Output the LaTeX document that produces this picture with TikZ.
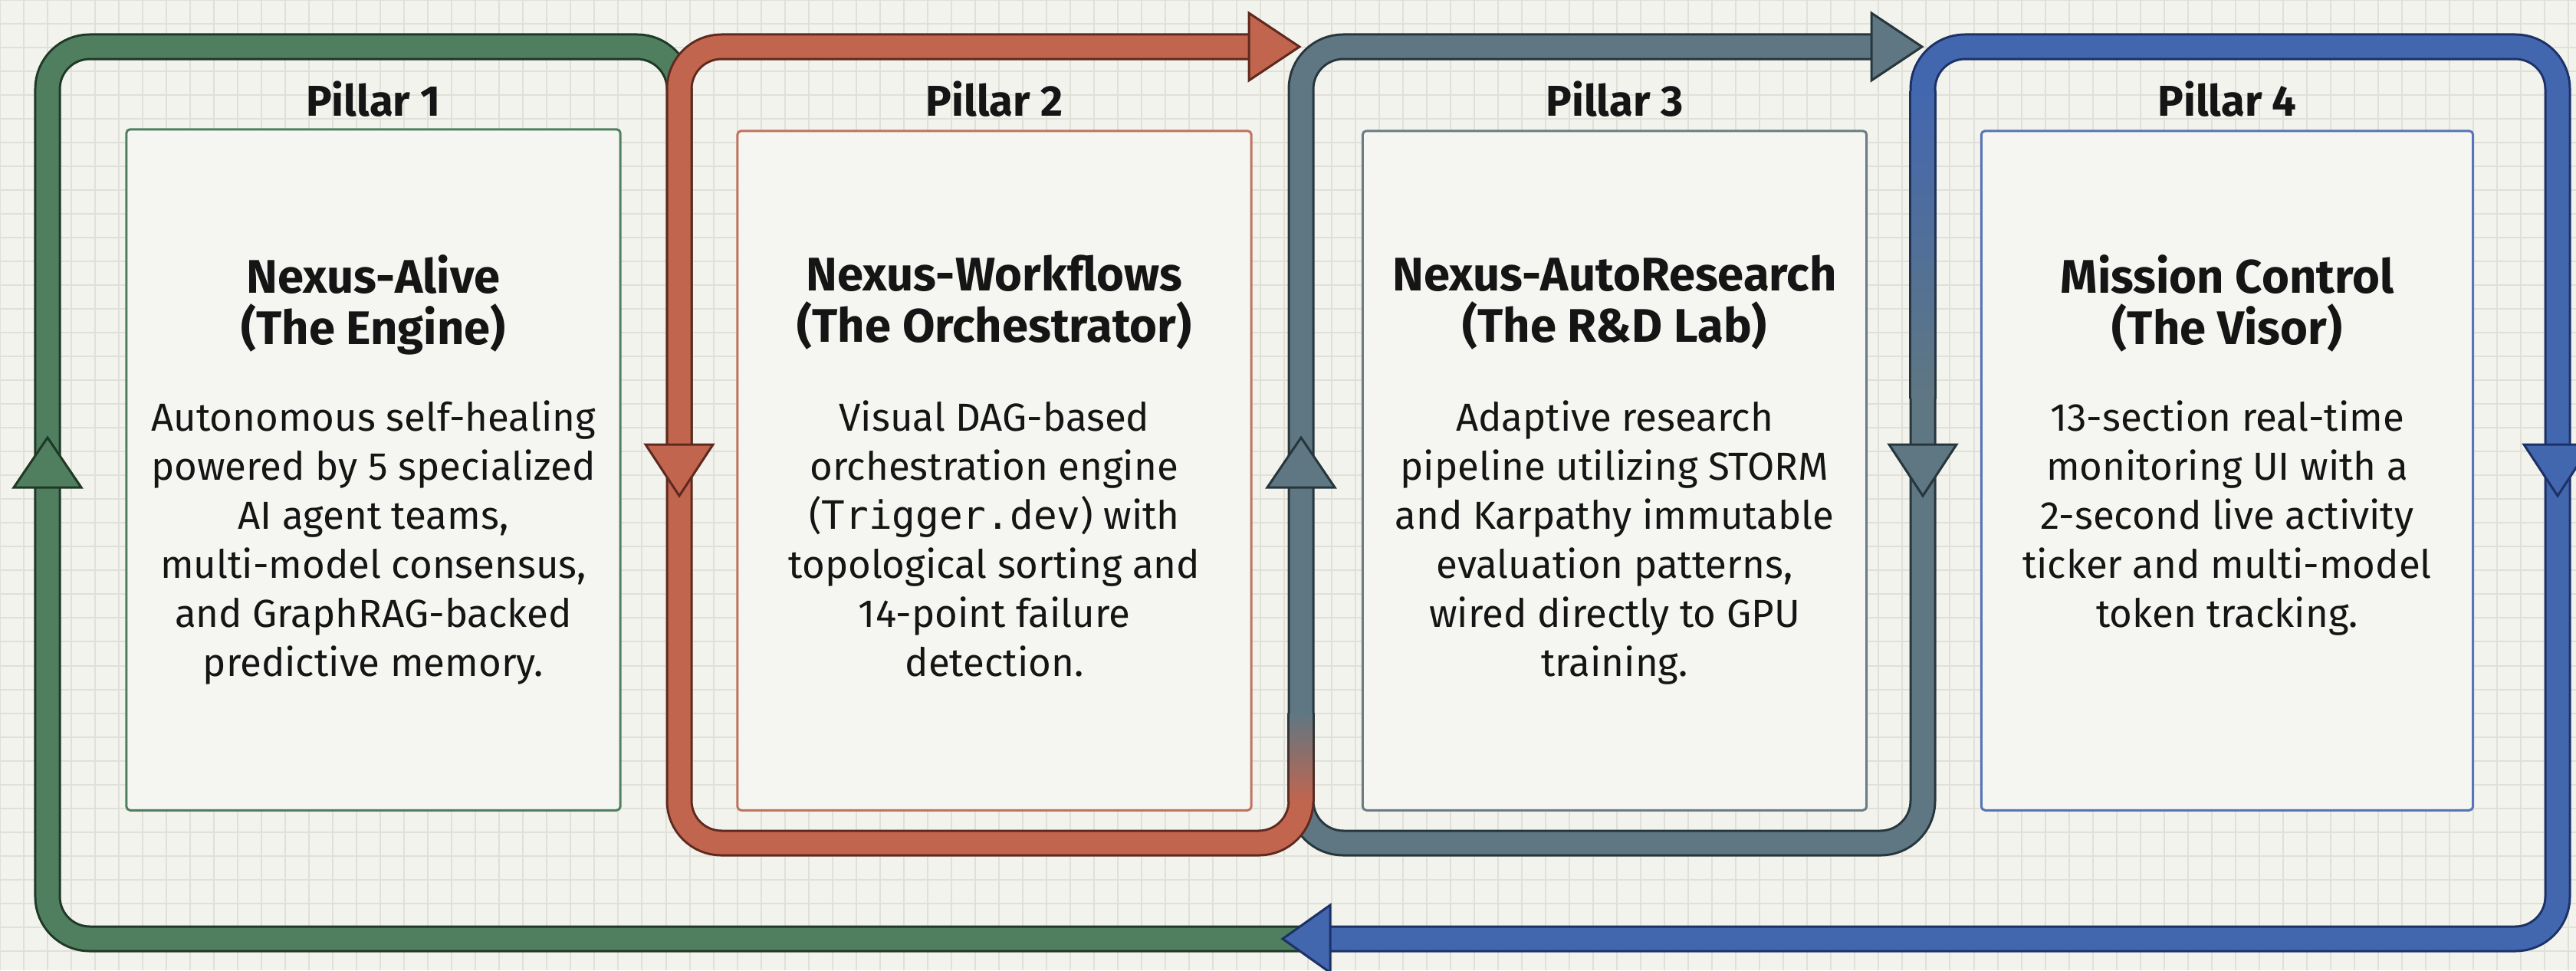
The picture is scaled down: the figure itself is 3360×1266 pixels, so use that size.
\documentclass[tikz,border=0pt]{standalone}
\usepackage{fontspec}
\setmainfont{Fira Sans}
\setmonofont{DejaVu Sans Mono}
\definecolor{bgc}{HTML}{F3F3EE}
\definecolor{gridc}{HTML}{E0E0D9}
\definecolor{boxfill}{HTML}{F5F5F1}
\definecolor{gMain}{HTML}{4F7F5E}
\definecolor{gDark}{HTML}{1F3827}
\definecolor{gLine}{HTML}{4F7F5E}
\definecolor{rMain}{HTML}{C2654E}
\definecolor{rDark}{HTML}{5E2A1F}
\definecolor{rLine}{HTML}{C0735F}
\definecolor{sMain}{HTML}{5F7782}
\definecolor{sDark}{HTML}{27363D}
\definecolor{sLine}{HTML}{6B7C84}
\definecolor{bMain}{HTML}{4367AF}
\definecolor{bDark}{HTML}{1C3166}
\definecolor{bLine}{HTML}{5675B8}
\definecolor{txt}{HTML}{151515}
\begin{document}
\begin{tikzpicture}[x=0.01cm,y=-0.01cm,
  band/.style={line width=0.03cm, double distance=0.29cm, rounded corners=0.55cm, draw=#1Dark, double=#1Main},
  arrowhd/.style={fill=#1Main, draw=#1Dark, line width=0.03cm, line join=miter},
  pbox/.style={draw=#1Line, line width=0.03cm, fill=boxfill, rounded corners=0.05cm, inner sep=0},
  lbl/.style={inner sep=0, text=txt, font=\fontsize{16}{19}\selectfont\bfseries, anchor=base},
  ttl/.style={align=center, inner sep=0, text=txt, font=\fontsize{17.5}{19.1}\selectfont\bfseries, anchor=north},
  body/.style={align=center, inner sep=0, text=txt, font=\fontsize{14.5}{18.2}\selectfont, anchor=north}]
\useasboundingbox (0,0) rectangle (3360,1266);
\fill[bgc] (0,0) rectangle (3360,1266);
\draw[gridc, line width=0.02cm, step=0.31cm] (0,1266) grid (3360,0);

% boxes
\node[pbox=g, minimum width=6.44cm, minimum height=8.88cm] (box1) at (487,613) {};
\node[pbox=r, minimum width=6.70cm, minimum height=8.86cm] (box2) at (1297,614) {};
\node[pbox=s, minimum width=6.57cm, minimum height=8.86cm] (box3) at (2106,614) {};
\node[pbox=b, minimum width=6.41cm, minimum height=8.86cm] (box4) at (2905,614) {};

% loops
\draw[band=g] (1705,1225) -- (62,1225) -- (62,61) -- (886,61) -- (886,600);
\draw[band=b] (1730,1225) -- (3336,1225) -- (3336,61) -- (2508,61) -- (2508,300);
\draw[band=s] (2445,61) -- (1697,61) -- (1697,1100) -- (2508,1100) -- (2508,500);
\draw[band=r] (1634,61) -- (886,61) -- (886,1100) -- (1697,1100) -- (1697,950);

% gradient joins
\shade[top color=bDark, bottom color=sDark] (2490.5,118) rectangle (2525.5,520);
\shade[top color=bMain, bottom color=sMain] (2493.5,118) rectangle (2522.5,520);
\shade[top color=sDark, bottom color=rDark] (1679.5,930) rectangle (1714.5,1046);
\shade[top color=sMain, bottom color=rMain] (1682.5,930) rectangle (1711.5,1046);

% arrowheads
\filldraw[arrowhd=r] (1695,61) -- (1629,17) -- (1629,105) -- cycle;
\filldraw[arrowhd=s] (2507,61) -- (2441,17) -- (2441,105) -- cycle;
\filldraw[arrowhd=b] (1673,1225) -- (1735,1181) -- (1735,1269) -- cycle;
\filldraw[arrowhd=g] (62,571) -- (18,636) -- (106,636) -- cycle;
\filldraw[arrowhd=r] (886,647) -- (842,580) -- (930,580) -- cycle;
\filldraw[arrowhd=s] (1697,571) -- (1653,636) -- (1741,636) -- cycle;
\filldraw[arrowhd=s] (2508,647) -- (2464,580) -- (2552,580) -- cycle;
\filldraw[arrowhd=b] (3336,647) -- (3292,580) -- (3380,580) -- cycle;

% labels
\node[lbl] (lab1) at (487,151) {Pillar 1};
\node[lbl] (lab2) at (1297,151) {Pillar 2};
\node[lbl] (lab3) at (2106,151) {Pillar 3};
\node[lbl] (lab4) at (2905,151) {Pillar 4};

\node[ttl] (t1) at (487,332) {Nexus-Alive\\(The Engine)};
\node[ttl] (t2) at (1297,332) {Nexus-Workflows\\(The Orchestrator)};
\node[ttl] (t3) at (2106,332) {Nexus-AutoResearch\\(The R\&D Lab)};
\node[ttl] (t4) at (2905,332) {Mission Control\\(The Visor)};

\node[body] (d1) at (487,522) {Autonomous self-healing\\powered by 5 specialized\\AI agent teams,\\multi-model consensus,\\and GraphRAG-backed\\predictive memory.};
\node[body] (d2) at (1297,522) {Visual DAG-based\\orchestration engine\\({\ttfamily Trigger.dev}) with\\topological sorting and\\14-point failure\\detection.};
\node[body] (d3) at (2106,522) {Adaptive research\\pipeline utilizing STORM\\and Karpathy immutable\\evaluation patterns,\\wired directly to GPU\\training.};
\node[body] (d4) at (2905,522) {13-section real-time\\monitoring UI with a\\2-second live activity\\ticker and multi-model\\token tracking.};
\end{tikzpicture}
\end{document}
